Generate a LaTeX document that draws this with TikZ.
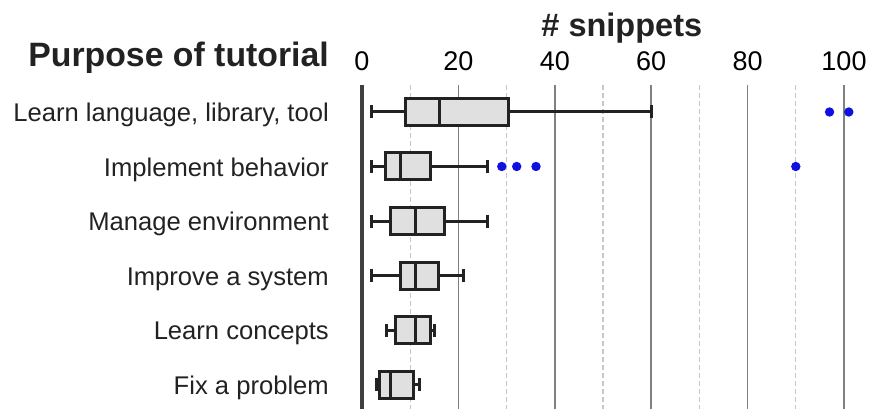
\documentclass[tikz,border=0pt]{standalone}
\usepackage{fontspec}
\setmainfont{Liberation Sans}
\usetikzlibrary{positioning}

\definecolor{boxfill}{HTML}{E0E0E0}
\definecolor{ink}{HTML}{222222}
\definecolor{dotblue}{HTML}{1010E0}

% y, low, q1, median, q3, high
\newcommand{\boxrow}[6]{%
  \draw[whisker] (#2,#1) -- (#3,#1);
  \draw[whisker] (#5,#1) -- (#6,#1);
  \draw[whisker] (#2,#1-6.5) -- (#2,#1+6.5);
  \draw[whisker] (#6,#1-6.5) -- (#6,#1+6.5);
  \draw[box] (#3,#1-13.5) rectangle (#5,#1+13.5);
  \draw[whisker] (#4,#1-13.5) -- (#4,#1+13.5);
}

\begin{document}
\begin{tikzpicture}[
x=1pt, y=-1pt,
rowlabel/.style={anchor=base east, inner sep=0pt, text=ink, font=\fontsize{25.6}{30}\selectfont},
heading/.style={anchor=base east, inner sep=0pt, text=ink, font=\fontsize{33.8}{40}\selectfont\bfseries},
tick/.style={anchor=base, inner sep=0pt, text=black, font=\fontsize{27}{32}\selectfont},
title/.style={anchor=base, inner sep=0pt, text=ink, font=\fontsize{32.5}{38}\selectfont\bfseries},
majorgrid/.style={line width=1.5pt, draw=black!50},
minorgrid/.style={line width=1.2pt, draw=black!22, dash pattern=on 5pt off 3pt},
axisline/.style={line width=4pt, draw=black!75},
box/.style={line width=3pt, draw=ink, fill=boxfill},
whisker/.style={line width=3pt, draw=ink},
outlier/.style={fill=dotblue}
]
\useasboundingbox (0,0) rectangle (876,409);

% category labels
\node[heading] (purpose) at (329,67) {Purpose of tutorial};
\node[rowlabel] (learntool) at (329,121.7) {Learn language, library, tool};
\node[rowlabel] (implement) at (329,176.2) {Implement behavior};
\node[rowlabel] (manage) at (329,230.7) {Manage environment};
\node[rowlabel] (improve) at (329,285.2) {Improve a system};
\node[rowlabel] (concepts) at (329,339.7) {Learn concepts};
\node[rowlabel] (fix) at (329,394.2) {Fix a problem};

\begin{scope}[shift={(362,0)}, x=4.82pt]
% grid
\foreach \v in {10,30,...,90}
  \draw[minorgrid] (\v,85) -- (\v,409);
\foreach \v in {20,40,...,100}
  \draw[majorgrid] (\v,85) -- (\v,409);
\draw[axisline] (0,85) -- (0,409);

% axis
\node[title] (snippets) at (53.9,36.7) {\# snippets};
\foreach \v in {0,20,...,100}
  \node[tick] (tick\v) at (\v,71) {\v};

% boxes
\boxrow{112}{2}{9}{16}{30.3}{60}
\boxrow{166.5}{2}{4.9}{7.9}{14.2}{26}
\boxrow{221}{2}{5.9}{11}{17.2}{26}
\boxrow{275.5}{2}{7.9}{11}{15.9}{21}
\boxrow{330}{5}{6.9}{11}{14.2}{15}
\boxrow{384.5}{3}{3.7}{5.9}{10.6}{12}

% outliers
\fill[outlier] (97,112) circle (4.7pt);
\fill[outlier] (101,112) circle (4.7pt);
\fill[outlier] (29,166.5) circle (4.7pt);
\fill[outlier] (32.1,166.5) circle (4.7pt);
\fill[outlier] (36.1,166.5) circle (4.7pt);
\fill[outlier] (90,166.5) circle (4.7pt);
\end{scope}

\end{tikzpicture}
\end{document}
